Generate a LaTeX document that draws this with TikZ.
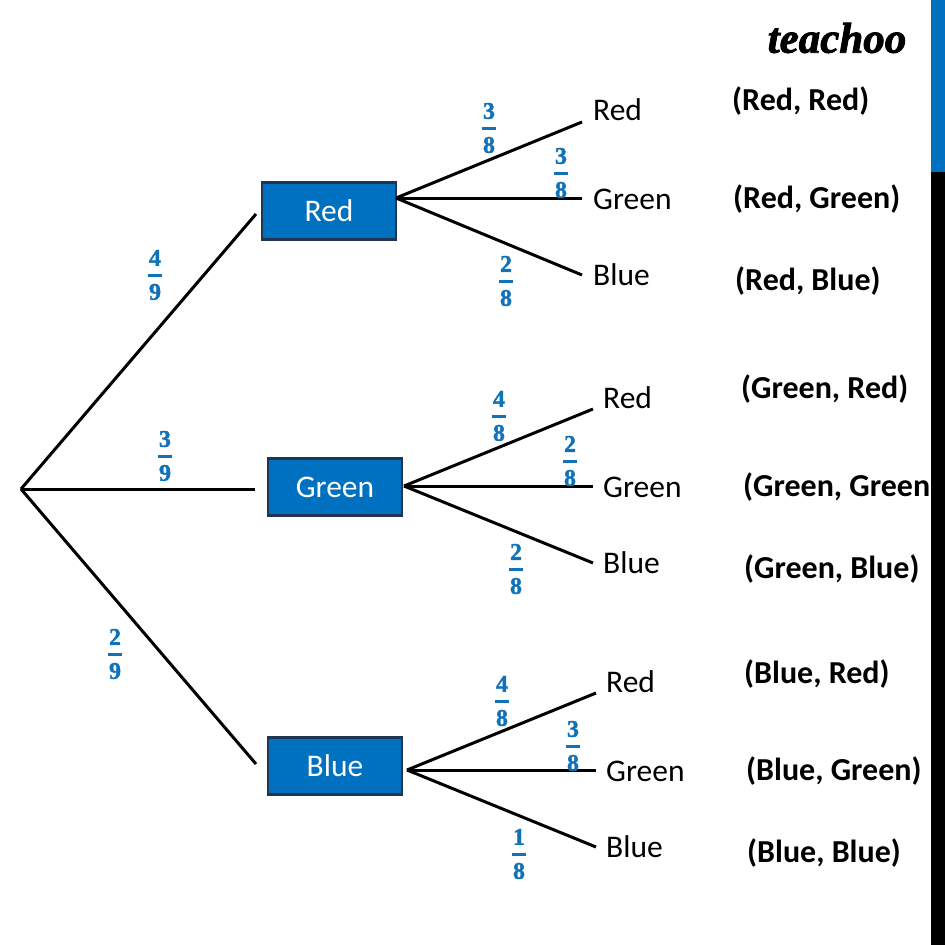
\documentclass[tikz,border=0pt]{standalone}
\usepackage{fontspec}
\setmainfont{Carlito}
\newfontfamily\digitfont[BoldFeatures={FakeBold=1.5}]{Liberation Serif}
\newfontfamily\logofont[BoldItalicFeatures={FakeBold=2}]{Liberation Serif}
\definecolor{boxblue}{HTML}{0070C0}
\definecolor{fracblue}{HTML}{1272B8}
\definecolor{boxedge}{HTML}{1F3552}
\newcommand{\prob}[2]{#1\\\rule[6pt]{14pt}{2.5pt}\\#2}
\begin{document}
\begin{tikzpicture}
    [x=1pt,y=-1pt,
     branch/.style={line width=3pt},
     colourbox/.style={shape=rectangle,draw=boxedge,fill=boxblue,line width=2.5pt,text=white,font=\fontsize{31.5}{31.5}\selectfont,minimum width=134pt,minimum height=57pt,inner sep=0pt},
     choice/.style={font=\fontsize{31.5}{31.5}\selectfont,anchor=west,inner sep=0pt},
     outcome/.style={font=\fontsize{32}{32}\bfseries\selectfont,anchor=west,inner sep=0pt},
     frc/.style={text=fracblue,align=center,font=\fontsize{24}{17}\digitfont\bfseries,inner sep=0pt}]
    \useasboundingbox (0,0) rectangle (945,945);
    \coordinate (root) at (21,489);
    % first stage
    \node [colourbox] (red) at (329,211) {Red};
    \node [colourbox] (green) at (335,487) {Green};
    \node [colourbox] (blue) at (335,766) {Blue};
    \coordinate (tored) at (256,214);
    \coordinate (togreen) at (255,489);
    \coordinate (toblue) at (256,764);
    \draw [branch] (root) -- (tored);
    \draw [branch] (root) -- (togreen);
    \draw [branch] (root) -- (toblue);
    \node [frc] (p1) at (155,275) {\prob{4}{9}};
    \node [frc] (p2) at (165,456) {\prob{3}{9}};
    \node [frc] (p3) at (115,654) {\prob{2}{9}};
    % second stage, red
    \coordinate (forkr) at (396,198);
    \coordinate (rr) at (582,122);
    \coordinate (rg) at (582,198);
    \coordinate (rb) at (582,275);
    \draw [branch] (forkr) -- (rr);
    \draw [branch] (forkr) -- (rg);
    \draw [branch] (forkr) -- (rb);
    \node [choice] (rrt) at (593,110) {Red};
    \node [choice] (rgt) at (593,199) {Green};
    \node [choice] (rbt) at (593,275) {Blue};
    \node [frc] (q1) at (489,128) {\prob{3}{8}};
    \node [frc] (q2) at (561,173) {\prob{3}{8}};
    \node [frc] (q3) at (506,281) {\prob{2}{8}};
    % second stage, green
    \coordinate (forkg) at (404,486);
    \coordinate (gr) at (593,409);
    \coordinate (gg) at (593,486);
    \coordinate (gb) at (593,563);
    \draw [branch] (forkg) -- (gr);
    \draw [branch] (forkg) -- (gg);
    \draw [branch] (forkg) -- (gb);
    \node [choice] (grt) at (603,398) {Red};
    \node [choice] (ggt) at (603,487) {Green};
    \node [choice] (gbt) at (603,563) {Blue};
    \node [frc] (q4) at (499,416) {\prob{4}{8}};
    \node [frc] (q5) at (570,461) {\prob{2}{8}};
    \node [frc] (q6) at (516,569) {\prob{2}{8}};
    % second stage, blue
    \coordinate (forkb) at (407,770);
    \coordinate (br) at (596,693);
    \coordinate (bg) at (596,770);
    \coordinate (bb) at (596,847);
    \draw [branch] (forkb) -- (br);
    \draw [branch] (forkb) -- (bg);
    \draw [branch] (forkb) -- (bb);
    \node [choice] (brt) at (606,682) {Red};
    \node [choice] (bgt) at (606,771) {Green};
    \node [choice] (bbt) at (606,847) {Blue};
    \node [frc] (q7) at (502,701) {\prob{4}{8}};
    \node [frc] (q8) at (573,746) {\prob{3}{8}};
    \node [frc] (q9) at (519,854) {\prob{1}{8}};
    % results
    \node [outcome] (o1) at (732,101) {(Red, Red)};
    \node [outcome] (o2) at (733,199) {(Red, Green)};
    \node [outcome] (o3) at (735,281) {(Red, Blue)};
    \node [outcome] (o4) at (741,389) {(Green, Red)};
    \node [outcome] (o5) at (743,487) {(Green, Green};
    \node [outcome] (o6) at (744,569) {(Green, Blue)};
    \node [outcome] (o7) at (744,674) {(Blue, Red)};
    \node [outcome] (o8) at (746,771) {(Blue, Green)};
    \node [outcome] (o9) at (747,853) {(Blue, Blue)};
    % logo and side bar
    \node [font=\fontsize{43}{43}\logofont\bfseries\itshape,inner sep=0pt] (logo) at (837,38) {teachoo};
    \fill [boxblue] (931,0) rectangle (945,172);
    \fill [black] (931,172) rectangle (945,945);
\end{tikzpicture}
\end{document}
